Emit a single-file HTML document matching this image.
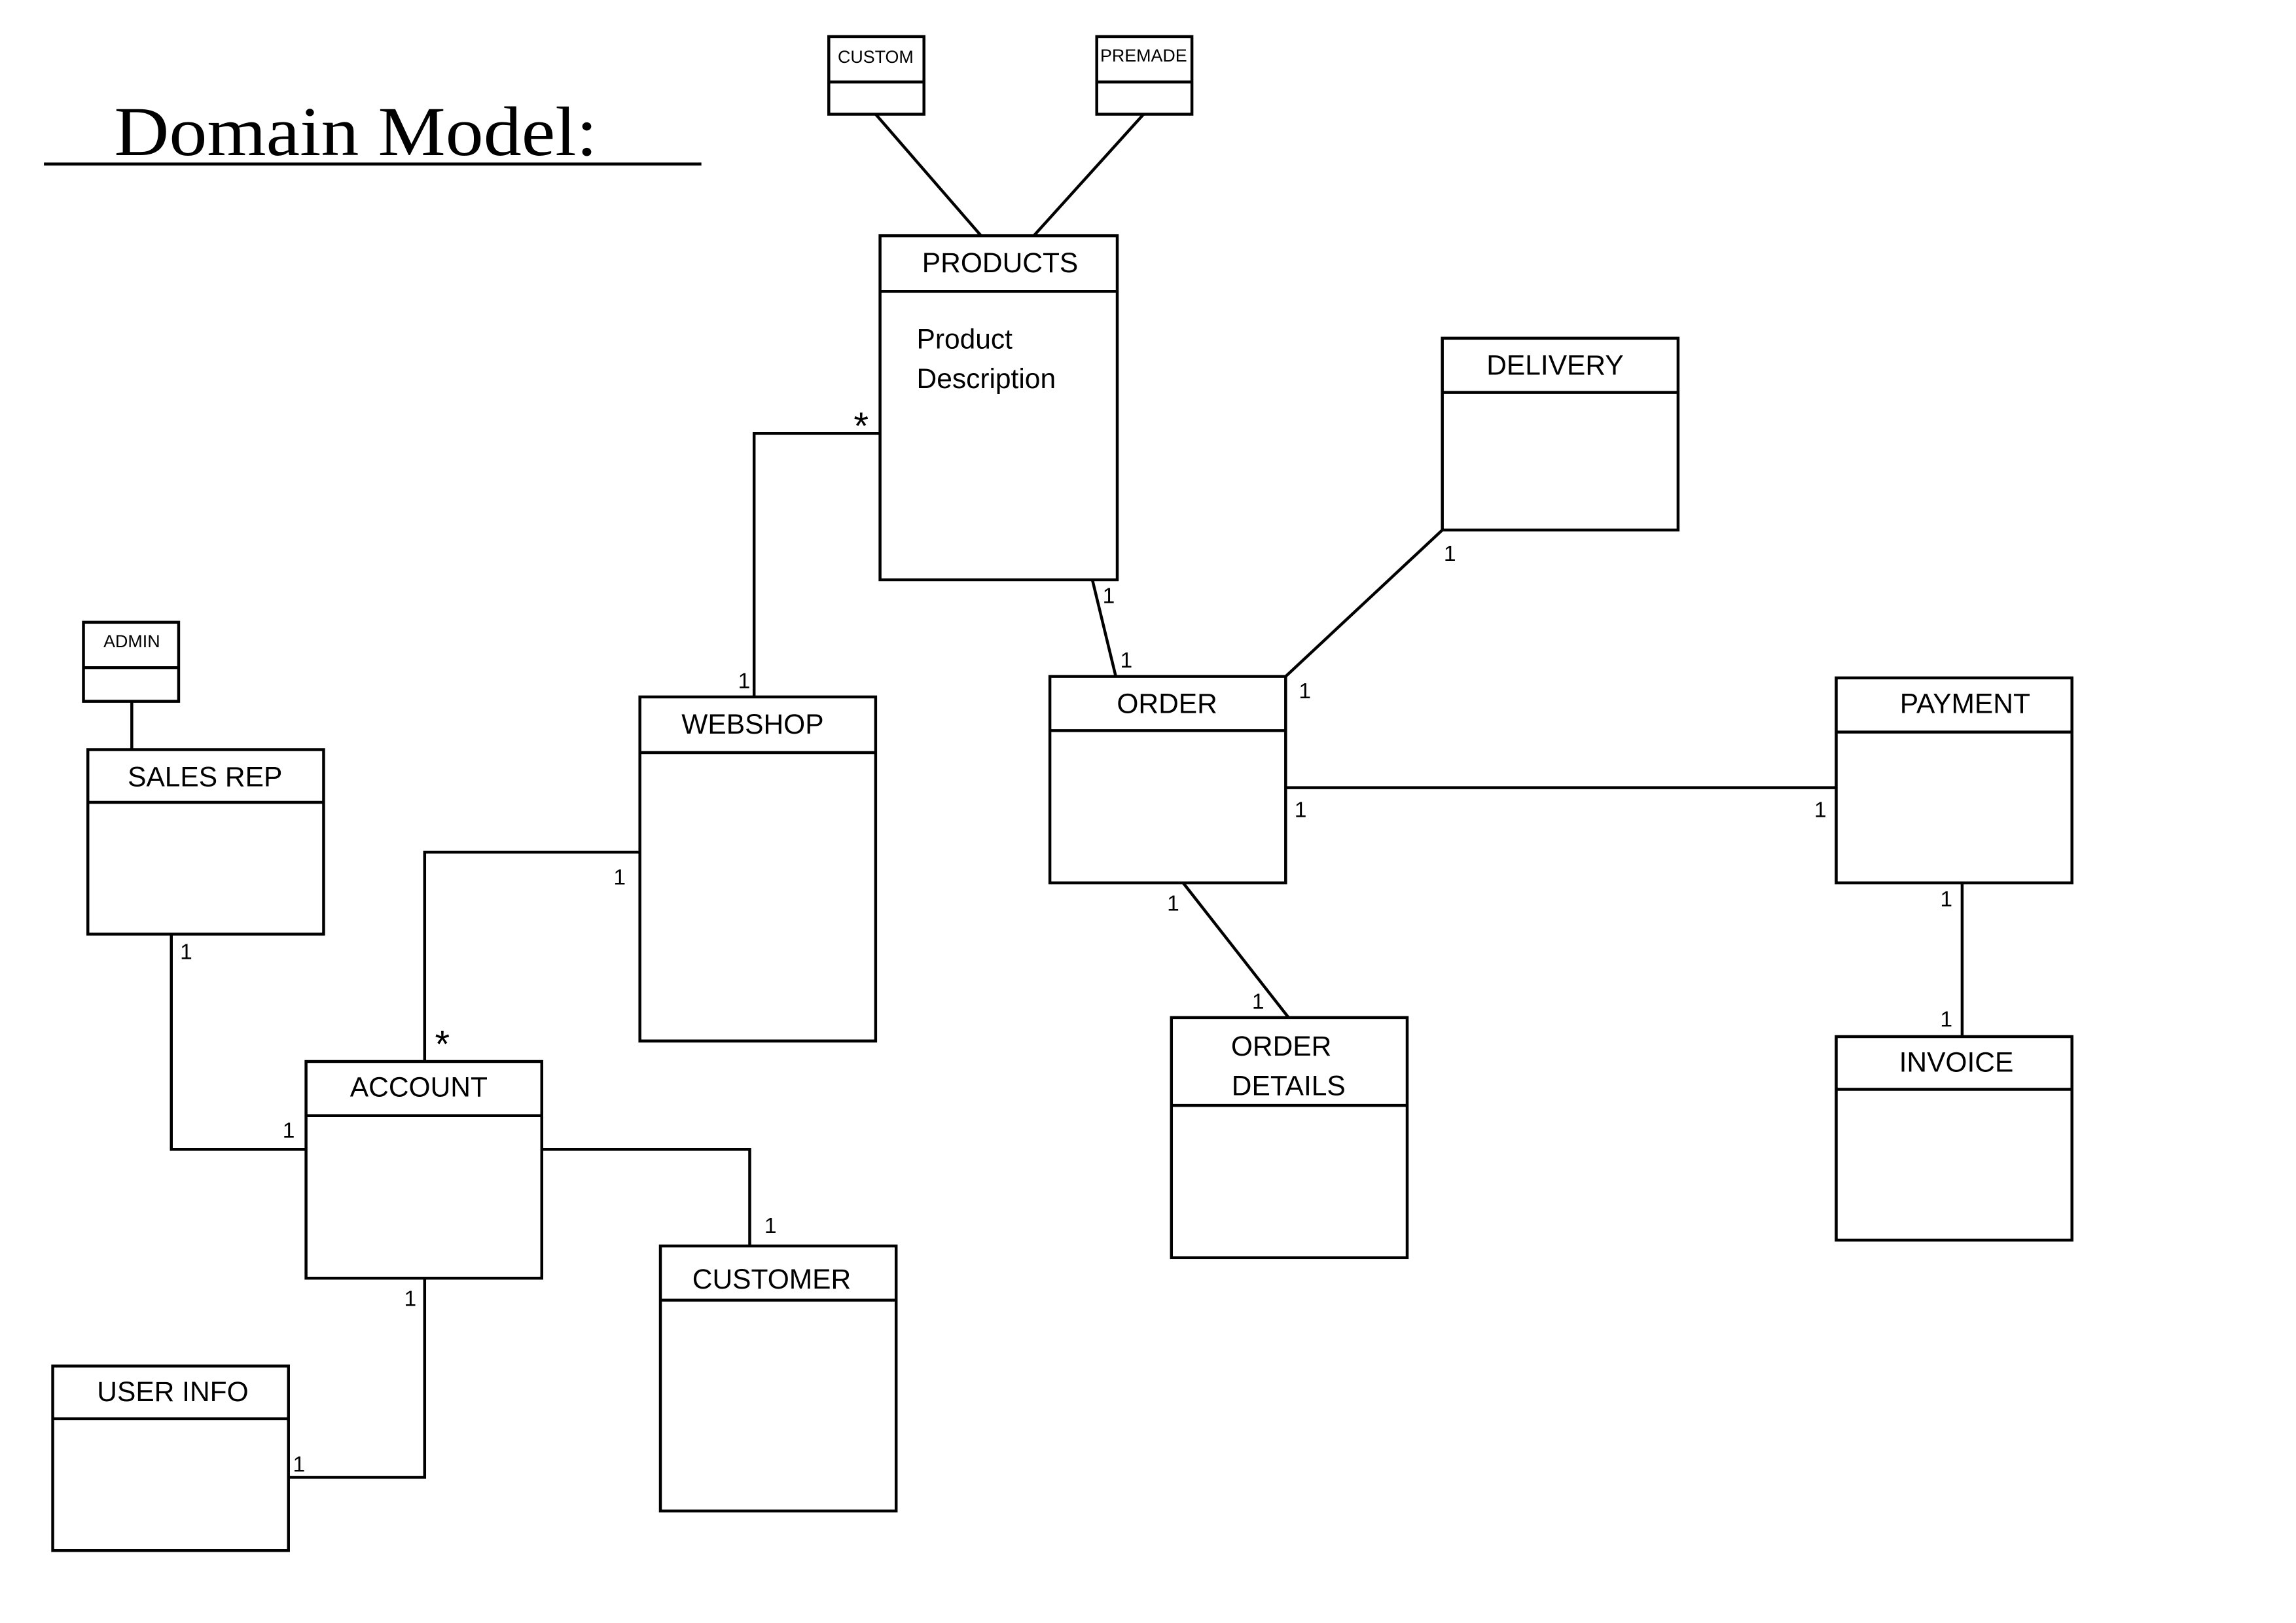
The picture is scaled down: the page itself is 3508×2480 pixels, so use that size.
<!DOCTYPE html>
<html><head><meta charset="utf-8"><style>
html,body{margin:0;padding:0;background:#fff;}
svg{display:block;}
text{font-family:"Liberation Sans",sans-serif;fill:#000;}
</style></head><body>
<svg width="3508" height="2480" viewBox="0 0 1568 1108.5" xmlns="http://www.w3.org/2000/svg">
<rect width="1568" height="1108.5" fill="#fff"/>
<g fill="none" stroke="#000" stroke-width="2">
<rect x="566" y="25" width="65" height="53"/><line x1="566" y1="56" x2="631" y2="56"/>
<rect x="749" y="25" width="65" height="53"/><line x1="749" y1="56" x2="814" y2="56"/>
<rect x="601" y="161" width="162" height="235"/><line x1="601" y1="199" x2="763" y2="199"/>
<rect x="985" y="231" width="161" height="131"/><line x1="985" y1="268" x2="1146" y2="268"/>
<rect x="57" y="425" width="65" height="54"/><line x1="57" y1="456" x2="122" y2="456"/>
<rect x="60" y="512" width="161" height="126"/><line x1="60" y1="548" x2="221" y2="548"/>
<rect x="437" y="476" width="161" height="235"/><line x1="437" y1="514" x2="598" y2="514"/>
<rect x="717" y="462" width="161" height="141"/><line x1="717" y1="499" x2="878" y2="499"/>
<rect x="1254" y="463" width="161" height="140"/><line x1="1254" y1="500" x2="1415" y2="500"/>
<rect x="800" y="695" width="161" height="164"/><line x1="800" y1="755" x2="961" y2="755"/>
<rect x="1254" y="708" width="161" height="139"/><line x1="1254" y1="744" x2="1415" y2="744"/>
<rect x="209" y="725" width="161" height="148"/><line x1="209" y1="762" x2="370" y2="762"/>
<rect x="451" y="851" width="161" height="181"/><line x1="451" y1="888" x2="612" y2="888"/>
<rect x="36" y="933" width="161" height="126"/><line x1="36" y1="969" x2="197" y2="969"/>
<line x1="598" y1="78" x2="670" y2="161"/>
<line x1="781" y1="78" x2="706" y2="161"/>
<polyline points="601,296 515,296 515,476"/>
<line x1="746" y1="396" x2="762" y2="462"/>
<line x1="985" y1="362" x2="878" y2="462"/>
<line x1="878" y1="538" x2="1254" y2="538"/>
<line x1="808" y1="603" x2="880" y2="695"/>
<line x1="1340" y1="603" x2="1340" y2="708"/>
<line x1="90" y1="479" x2="90" y2="512"/>
<polyline points="437,582 290,582 290,725"/>
<polyline points="117,638 117,785 209,785"/>
<polyline points="370,785 512,785 512,851"/>
<polyline points="290,873 290,1009 197,1009"/>
<line x1="30" y1="112" x2="479" y2="112"/>
</g>
<text x="78" y="106" style="font-family:'Liberation Serif',serif" font-size="48" textLength="330" lengthAdjust="spacingAndGlyphs">Domain Model:</text>
<g font-size="12" text-anchor="middle">
<text x="598" y="43">CUSTOM</text>
<text x="781" y="42">PREMADE</text>
<text x="90" y="442">ADMIN</text>
</g>
<g font-size="19" text-anchor="middle">
<text x="683" y="186">PRODUCTS</text>
<text x="1062" y="256">DELIVERY</text>
<text x="140" y="537">SALES REP</text>
<text x="514" y="501">WEBSHOP</text>
<text x="797" y="487">ORDER</text>
<text x="1342" y="487">PAYMENT</text>
<text x="875" y="721">ORDER</text>
<text x="880" y="748">DETAILS</text>
<text x="1336" y="732">INVOICE</text>
<text x="286" y="749">ACCOUNT</text>
<text x="527" y="880">CUSTOMER</text>
<text x="118" y="957">USER INFO</text>
</g>
<g font-size="19">
<text x="626" y="238">Product</text>
<text x="626" y="265">Description</text>
</g>
<g font-size="15">
<text x="504" y="470">1</text>
<text x="753" y="412">1</text>
<text x="765" y="456">1</text>
<text x="986" y="383">1</text>
<text x="887" y="477">1</text>
<text x="884" y="558">1</text>
<text x="1239" y="558">1</text>
<text x="797" y="622">1</text>
<text x="855" y="689">1</text>
<text x="1325" y="619">1</text>
<text x="1325" y="701">1</text>
<text x="419" y="604">1</text>
<text x="123" y="655">1</text>
<text x="193" y="777">1</text>
<text x="522" y="842">1</text>
<text x="276" y="892">1</text>
<text x="200" y="1005">1</text>
</g>
<g font-size="26">
<text x="583" y="300">*</text>
<text x="297" y="722">*</text>
</g>
</svg>
</body></html>
